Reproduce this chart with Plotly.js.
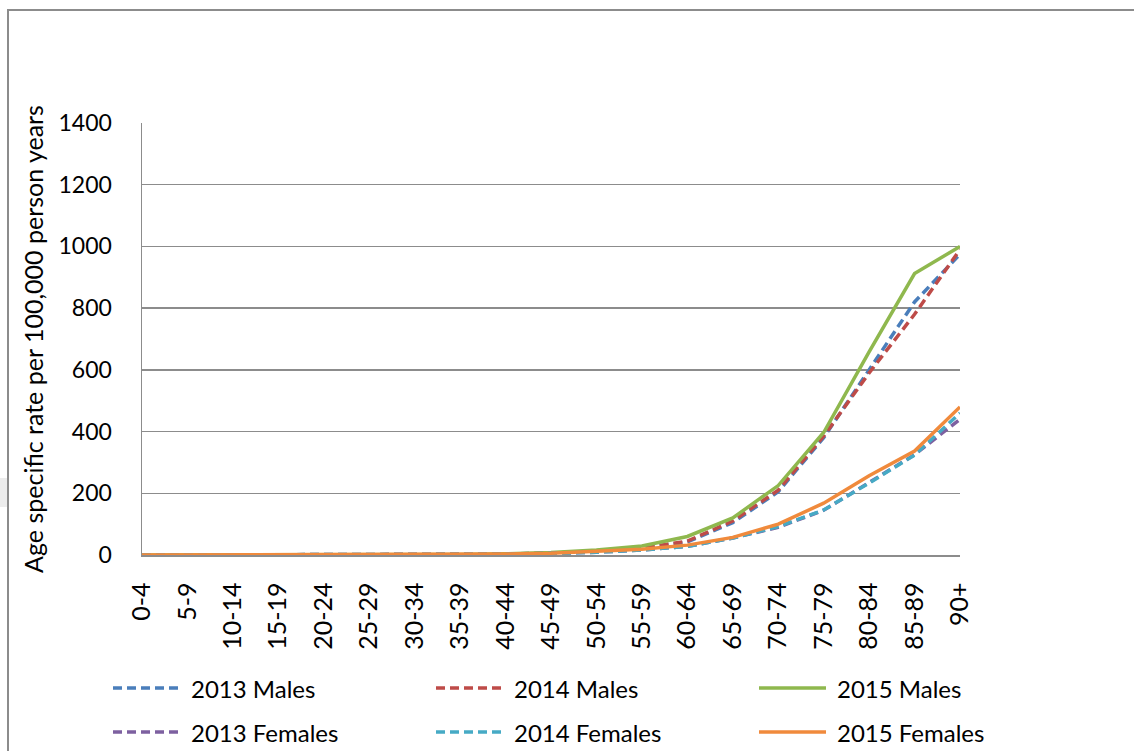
<!DOCTYPE html>
<html>
<head>
<meta charset="utf-8">
<script src="https://cdn.plot.ly/plotly-3.0.1.min.js"></script>
<style>
html,body{margin:0;padding:0;background:#fff;}
#wrap{position:relative;width:1134px;height:751px;overflow:hidden;}
#chart{width:1134px;height:751px;}
#frame{position:absolute;left:7px;top:9px;width:1200px;height:800px;border-left:2px solid #8c8c8c;border-top:2px solid #8c8c8c;pointer-events:none;}
#smudge{position:absolute;left:0;top:478px;width:7px;height:29px;background:#ececec;pointer-events:none;}
</style>
</head>
<body>
<div id="wrap">
<div id="chart"></div>
<div id="frame"></div>
<div id="smudge"></div>
</div>
<script>
var ageGroups = ['0-4','5-9','10-14','15-19','20-24','25-29','30-34','35-39','40-44','45-49','50-54','55-59','60-64','65-69','70-74','75-79','80-84','85-89','90+'];
var males2013   = [0.3,0.2,0.2,0.3,0.4,0.5,0.8,1.5,3,6,12,22,42,105,205,380,600,820,975];
var males2014   = [0.3,0.2,0.2,0.3,0.4,0.5,0.8,1.5,3,6,12,22,45,110,210,385,590,780,990];
var males2015   = [0.3,0.2,0.2,0.3,0.4,0.6,1,2,4,8,16,29,60,120,225,397,658,912,1000];
var females2013 = [0.2,0.2,0.2,0.3,0.4,0.5,0.7,1.3,2.5,5,9,16,28,55,90,145,235,325,440];
var females2014 = [0.2,0.2,0.2,0.3,0.4,0.5,0.7,1.3,2.5,5,9,16,28,55,92,146,233,324,460];
var females2015 = [0.2,0.2,0.2,0.3,0.4,0.5,0.8,1.5,3,6,13,19,32,57,100,168,257,337,480];
var yTicks = [0,200,400,600,800,1000,1200,1400];
var seriesNames  = ['2013 Males','2014 Males','2015 Males','2013 Females','2014 Females','2015 Females'];
var seriesColors = ['#4a7ebb','#be4b48','#8fb84e','#7d60a0','#46aac5','#f08a3c'];
var seriesDash   = ['dash','dash','solid','dash','dash','solid'];
var seriesValues = [males2013, males2014, males2015, females2013, females2014, females2015];

var FONT = 'Lato, "Open Sans", sans-serif';
var ML=142, MR=174, MT=123, MB=196, W=1134, H=751;
var PW=W-ML-MR, PH=H-MT-MB;
function px2x(p){return (p-ML)/PW;}
function px2y(p){return (H-MB-p)/PH;}
function dashOf(d){return d==='dash' ? '9px,5px' : 'solid';}

var data = seriesNames.map(function(n,i){
  return {type:'scatter', mode:'lines', name:n, x:ageGroups, y:seriesValues[i],
    line:{color:seriesColors[i], width:3.5, dash:dashOf(seriesDash[i])}, showlegend:false};
});

// manual legend: 3 columns x 2 rows
var shapes=[], annotations=[];
var colX=[113,436,759], rowY=[688,732];
seriesNames.forEach(function(n,i){
  var c=i%3, r=Math.floor(i/3);
  shapes.push({type:'line', xref:'paper', yref:'paper',
    x0:px2x(colX[c]), x1:px2x(colX[c]+67), y0:px2y(rowY[r]), y1:px2y(rowY[r]),
    line:{color:seriesColors[i], width:3.5, dash:dashOf(seriesDash[i])}});
  annotations.push({xref:'paper', yref:'paper', x:px2x(colX[c]+76), y:px2y(rowY[r]),
    xanchor:'left', yanchor:'middle', text:n, showarrow:false,
    font:{family:FONT, size:24, color:'#000'}});
});

var layout = {
  width:W, height:H,
  margin:{l:ML, r:MR, t:MT, b:MB, autoexpand:false},
  paper_bgcolor:'#fff', plot_bgcolor:'#fff',
  font:{family:FONT, size:23, color:'#000'},
  showlegend:false,
  shapes:shapes, annotations:annotations,
  xaxis:{type:'category', tickangle:-90, ticks:'', showgrid:false, automargin:false,
    showline:true, linecolor:'#8c8c8c', linewidth:1.5, zeroline:false,
    ticklabelstandoff:16, tickfont:{family:FONT, size:25}},
  yaxis:{range:[0,1400], tickvals:yTicks, ticktext:yTicks.map(String), automargin:false,
    showgrid:true, gridcolor:'#8c8c8c', gridwidth:1.5, zeroline:false,
    showline:true, linecolor:'#8c8c8c', linewidth:1.5, ticks:'',
    ticklabelstandoff:24, tickfont:{family:FONT, size:23},
    title:{text:'Age specific rate per 100,000 person years', standoff:8,
      font:{family:FONT, size:25}}}
};
Plotly.newPlot('chart', data, layout, {displayModeBar:false, staticPlot:true});
</script>
</body>
</html>
